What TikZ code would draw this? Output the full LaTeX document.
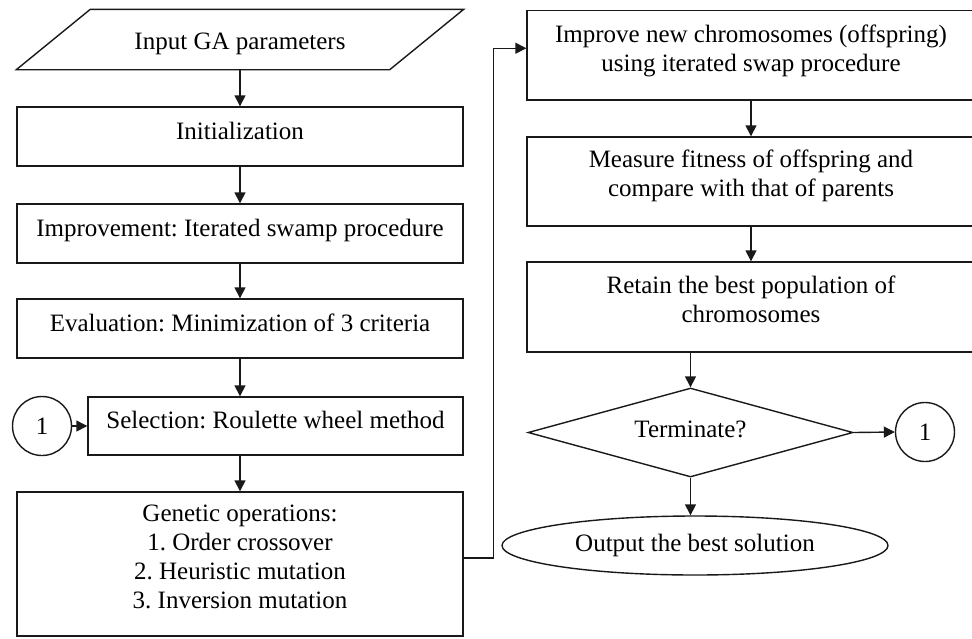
\documentclass[tikz,border=0pt]{standalone}
\usepackage{fontspec}
\setmainfont{Liberation Serif}
\usetikzlibrary{arrows.meta,shapes.geometric,calc}
\frenchspacing
\begin{document}
\frenchspacing
\begin{tikzpicture}[x=1pt,y=-1pt,
  font=\fontsize{25}{29}\selectfont,
  line width=1.4pt, draw=black!90,
  box/.style={draw,rectangle,inner sep=0pt},
  onel/.style={text height=17pt,text depth=12pt},
  txt/.style={align=center,inner sep=0pt},
  conn/.style={draw,circle,inner sep=0pt,minimum size=59pt},
  arr/.style={-{Triangle[length=11pt,width=11pt]}}
]
\useasboundingbox (0,0) rectangle (972,638);

% left column
\node[inner sep=0pt,minimum width=446pt,minimum height=59pt,text height=19pt,text depth=0pt] (input) at (240,39.5) {Input GA parameters};
\draw ($(input.north west)+(74,0)$) -- (input.north east) -- ($(input.south east)+(-74,0)$) -- (input.south west) -- cycle;
\node[box,onel,minimum width=446pt,minimum height=59pt] (init) at (240,136.5) {Initialization};
\node[box,onel,minimum width=446pt,minimum height=59pt] (impr) at (240,233.5) {Improvement: Iterated swamp procedure};
\node[box,onel,minimum width=446pt,minimum height=59pt] (eval) at (240,328.5) {Evaluation: Minimization of 3 criteria};
\node[box,onel,minimum width=375pt,minimum height=58pt] (sel) at (275.5,426) {Selection: Roulette wheel method};
\node[conn] (cl) at (42,426) {1};
\node[box,minimum width=446pt,minimum height=144pt] (gen) at (240,564) {};
\node[txt] (gent) at (240,557) {Genetic operations:\\1. Order crossover\\2. Heuristic mutation\\3. Inversion mutation};

% right column
\node[box,minimum width=448pt,minimum height=89.5pt] (r1) at (751,55.25) {};
\node[txt] (r1t) at (751,50.5) {Improve new chromosomes (offspring)\\using iterated swap procedure};
\node[box,minimum width=448pt,minimum height=89pt] (r2) at (751,181.5) {};
\node[txt] (r2t) at (751,175.8) {Measure fitness of offspring and\\compare with that of parents};
\node[box,minimum width=448pt,minimum height=90pt] (r3) at (751,307) {};
\node[txt] (r3t) at (751,299.4) {Retain the best population of\\chromosomes};
\node[draw,diamond,aspect=3.65,inner sep=0pt,minimum width=325pt,minimum height=89pt,text height=17pt,text depth=7pt] (dia) at (690.5,432.5) {Terminate?};
\node[conn] (cr) at (925,432) {1};
\node[draw,ellipse,inner sep=0pt,minimum width=386pt,minimum height=59pt] (out) at (695,545.5) {Output the best solution};

% connectors
\draw[arr] (input.south) -- (init.north);
\draw[arr] (init.south) -- (impr.north);
\draw[arr] (impr.south) -- (eval.north);
\draw[arr] (eval.south) -- (eval.south |- sel.north);
\draw[arr] (sel.south -| gen.north) -- (gen.north);
\draw[arr] (cl.east) -- (sel.west);
\draw[arr] ($(gen.east)+(0,-6)$) -- ++(30,0) |- ($(r1.west)+(0,-7)$);
\draw[arr] (r1.south) -- (r2.north);
\draw[arr] (r2.south) -- (r3.north);
\draw[arr] (r3.south -| dia.north) -- (dia.north);
\draw[arr] (dia.east) -- (cr.west);
\draw[arr] (dia.south) -- (dia.south |- out.north);
\end{tikzpicture}
\end{document}
